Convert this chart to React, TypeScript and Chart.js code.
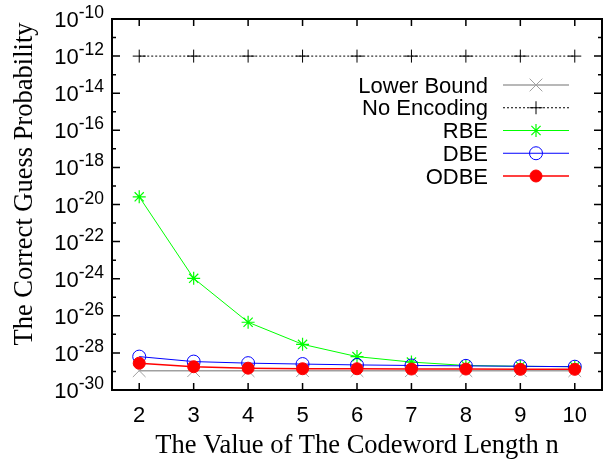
import React, { useEffect, useRef } from 'react';
import { Chart, registerables } from 'chart.js';
import { drawPoint } from 'chart.js/helpers';

Chart.register(...registerables);

// ---- data ----
const nValues = [2, 3, 4, 5, 6, 7, 8, 9, 10];
const lowerBound = [1.1e-29, 1.1e-29, 1.1e-29, 1.1e-29, 1.1e-29, 1.1e-29, 1.1e-29, 1.1e-29, 1.1e-29];
const noEncoding = [1e-12, 1e-12, 1e-12, 1e-12, 1e-12, 1e-12, 1e-12, 1e-12, 1e-12];
const rbe = [2.6e-20, 1.05e-24, 4.5e-27, 2.9e-28, 6.3e-29, 3.2e-29, 2.1e-29, 1.9e-29, 1.8e-29];
const dbe = [6.3e-29, 3.4e-29, 2.8e-29, 2.5e-29, 2.25e-29, 2.1e-29, 2.0e-29, 1.9e-29, 1.8e-29];
const odbe = [2.8e-29, 1.8e-29, 1.5e-29, 1.4e-29, 1.4e-29, 1.35e-29, 1.35e-29, 1.3e-29, 1.3e-29];
const seriesNames = ['Lower Bound', 'No Encoding', 'RBE', 'DBE', 'ODBE'];
const yTickExponents = [-10, -12, -14, -16, -18, -20, -22, -24, -26, -28, -30];
const yMinorExponents = [-11, -13, -15, -17, -19, -21, -23, -25, -27, -29];
const xTitle = 'The Value of The Codeword Length n';
const yTitle = 'The Correct Guess Probability';

const SANS = '"Liberation Sans", Arial, sans-serif';
const SERIF = '"Liberation Serif", "Times New Roman", serif';

const pts = (vals: number[]) => vals.map((v, i) => ({ x: nValues[i], y: v }));

const decorPlugin = {
  id: 'decor',
  afterDraw(chart: any) {
    const ctx = chart.ctx as CanvasRenderingContext2D;
    const { left, right, top, bottom } = chart.chartArea;
    const xs = chart.scales.x;
    const ys = chart.scales.y;
    ctx.save();
    // frame
    ctx.strokeStyle = '#000';
    ctx.lineWidth = 2;
    ctx.strokeRect(left, top, right - left, bottom - top);
    // x ticks
    ctx.lineWidth = 1.5;
    nValues.forEach((n) => {
      const px = xs.getPixelForValue(n);
      ctx.beginPath();
      ctx.moveTo(px, bottom);
      ctx.lineTo(px, bottom - 7);
      ctx.moveTo(px, top);
      ctx.lineTo(px, top + 7);
      ctx.stroke();
    });
    // y ticks
    const yt = (e: number, len: number) => {
      const py = ys.getPixelForValue(Number('1e' + e));
      ctx.beginPath();
      ctx.moveTo(left, py);
      ctx.lineTo(left + len, py);
      ctx.moveTo(right, py);
      ctx.lineTo(right - len, py);
      ctx.stroke();
    };
    yTickExponents.forEach((e) => yt(e, 8));
    yMinorExponents.forEach((e) => yt(e, 4));

    ctx.fillStyle = '#000';
    // x tick labels
    ctx.font = '22px ' + SANS;
    ctx.textAlign = 'center';
    ctx.textBaseline = 'alphabetic';
    nValues.forEach((n) => {
      ctx.fillText(String(n), xs.getPixelForValue(n), 422);
    });
    // y tick labels 10^e
    yTickExponents.forEach((e) => {
      const py = ys.getPixelForValue(Number('1e' + e));
      const exp = String(e);
      ctx.textAlign = 'left';
      ctx.font = '17.5px ' + SANS;
      const ew = ctx.measureText(exp).width;
      const xr = 104;
      ctx.fillText(exp, xr - ew, py - 1);
      ctx.font = '22px ' + SANS;
      const bw = ctx.measureText('10').width;
      ctx.fillText('10', xr - ew - bw, py + 8);
    });
    // axis titles
    ctx.font = '26.5px ' + SERIF;
    ctx.textAlign = 'center';
    ctx.fillText(xTitle, (left + right) / 2, 453);
    ctx.save();
    ctx.translate(32, 184);
    ctx.rotate(-Math.PI / 2);
    ctx.fillText(yTitle, 0, 0);
    ctx.restore();

    // legend
    const rowY0 = 85;
    const rowStep = 22.75;
    chart.data.datasets.forEach((ds: any, i: number) => {
      const y = rowY0 + i * rowStep;
      ctx.font = '22px ' + SANS;
      ctx.textAlign = 'right';
      ctx.fillStyle = '#000';
      ctx.fillText(ds.label, 488, y + 7.5);
      ctx.strokeStyle = ds.borderColor;
      ctx.lineWidth = ds.borderWidth;
      ctx.setLineDash(ds.borderDash || []);
      ctx.beginPath();
      ctx.moveTo(503, y);
      ctx.lineTo(569, y);
      ctx.stroke();
      ctx.setLineDash([]);
      ctx.strokeStyle = ds.borderColor;
      ctx.fillStyle = ds.pointBackgroundColor;
      ctx.lineWidth = ds.pointBorderWidth;
      drawPoint(ctx, { pointStyle: ds.pointStyle, radius: ds.pointRadius, rotation: 0, borderWidth: ds.pointBorderWidth } as any, 536, y);
    });
    ctx.restore();
  },
};

export default function App() {
  const ref = useRef<HTMLCanvasElement>(null);
  useEffect(() => {
    if (!ref.current) return;
    const chart = new Chart(ref.current, {
      type: 'line',
      data: {
        datasets: [
          {
            label: seriesNames[0], data: pts(lowerBound), borderColor: '#a0a0a0', borderWidth: 1.5,
            pointStyle: 'crossRot', pointRadius: 9, pointBorderWidth: 1, pointBackgroundColor: 'rgba(0,0,0,0)',
            pointBorderColor: '#a0a0a0', order: 5,
          },
          {
            label: seriesNames[1], data: pts(noEncoding), borderColor: '#000000', borderWidth: 1, borderDash: [2, 2],
            pointStyle: 'cross', pointRadius: 6.5, pointBorderWidth: 1, pointBackgroundColor: 'rgba(0,0,0,0)',
            pointBorderColor: '#000000', order: 4,
          },
          {
            label: seriesNames[2], data: pts(rbe), borderColor: '#00ff00', borderWidth: 1,
            pointStyle: 'star', pointRadius: 6.5, pointBorderWidth: 1.2, pointBackgroundColor: 'rgba(0,0,0,0)',
            pointBorderColor: '#00ff00', order: 3,
          },
          {
            label: seriesNames[3], data: pts(dbe), borderColor: '#0000ff', borderWidth: 1,
            pointStyle: 'circle', pointRadius: 6.5, pointBorderWidth: 1, pointBackgroundColor: 'rgba(0,0,0,0)',
            pointBorderColor: '#0000ff', order: 2,
          },
          {
            label: seriesNames[4], data: pts(odbe), borderColor: '#ff0000', borderWidth: 1.5,
            pointStyle: 'circle', pointRadius: 6, pointBorderWidth: 1, pointBackgroundColor: '#ff0000',
            pointBorderColor: '#ff0000', order: 1,
          },
        ] as any,
      },
      options: {
        animation: false,
        responsive: false,
        devicePixelRatio: 1,
        layout: { padding: { left: 112, right: 1, top: 19, bottom: 74 } },
        plugins: { legend: { display: false }, tooltip: { enabled: false } },
        scales: {
          x: { type: 'linear', min: 1.5, max: 10.5, display: false },
          y: { type: 'logarithmic', min: 1e-30, max: 1e-10, display: false },
        },
        elements: { line: { tension: 0 } },
      },
      plugins: [decorPlugin],
    });
    return () => chart.destroy();
  }, []);
  return (
    <div style={{ position: 'fixed', left: 0, top: 0, width: 612, height: 464, background: '#fff' }}>
      <canvas ref={ref} width={612} height={464} style={{ display: 'block' }} />
    </div>
  );
}
